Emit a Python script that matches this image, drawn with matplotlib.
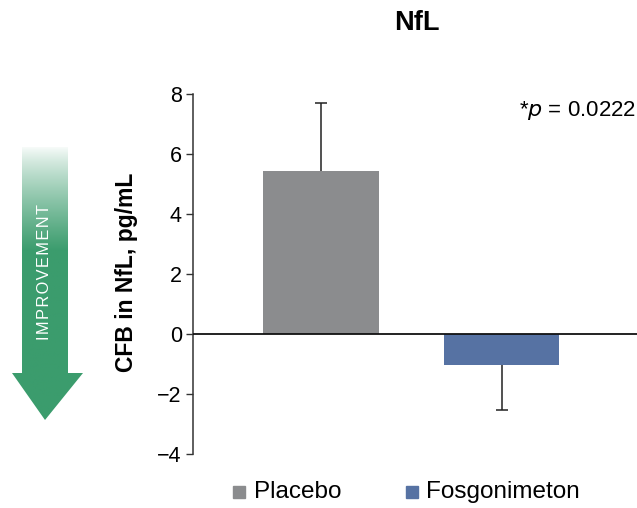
import numpy as np
import matplotlib
matplotlib.use("Agg")
import matplotlib.pyplot as plt
from matplotlib.patches import Polygon, Rectangle

plt.rcParams['font.family'] = ['Liberation Sans', 'DejaVu Sans']

groups = ["Placebo", "Fosgonimeton"]
means = [5.43, -1.02]
err_up = [2.28, 0.0]
err_dn = [0.0, 1.52]
colors = ["#8b8c8e", "#5672a3"]
yticks = [-4, -2, 0, 2, 4, 6, 8]
title = "NfL"
ylabel = "CFB in NfL, pg/mL"
ptext = "*$\\it{p}$ = 0.0222"
arrow_label = "IMPROVEMENT"

W, H = 637, 508
fig = plt.figure(figsize=(W/100, H/100), dpi=100)

def fx(px): return px / W
def fy(py): return 1 - py / H

ax = fig.add_axes([fx(193), fy(454), fx(637) - fx(193), fy(94) - fy(454)])
x = np.array([0, 1])
ax.bar(x, means, width=0.64, color=colors, zorder=2)
for i in range(len(x)):
    _, caps, _ = ax.errorbar([x[i]], [means[i]], yerr=[[err_dn[i]], [err_up[i]]],
                             fmt='none', ecolor='#222222', elinewidth=1.1,
                             capsize=4, capthick=1.1, zorder=3)
    for c in caps:
        yd = np.asarray(c.get_ydata(), dtype=float)
        if np.allclose(yd, means[i]):
            c.set_visible(False)
ax.axhline(0, color='#111111', lw=1.3, zorder=4)
ax.set_xlim(-0.71, 1.75)
ax.set_ylim(-4, 8)
ax.set_yticks(yticks)
ax.set_yticklabels([str(t).replace('-', '\u2212') for t in yticks], fontsize=15.5)
ax.tick_params(axis='y', direction='out', length=5, width=1, color='#333333', pad=3)
ax.set_xticks([])
for s in ['top', 'right', 'bottom']:
    ax.spines[s].set_visible(False)
ax.spines['left'].set_color('#333333')
ax.spines['left'].set_linewidth(1.1)

fig.text(fx(127), fy(272), ylabel, rotation=90, ha='center', va='center',
         fontsize=16.5, fontweight='bold')
fig.text(fx(417), fy(23), title, ha='center', va='center', fontsize=19.5, fontweight='bold')
fig.text(fx(636), fy(111), ptext, ha='right', va='center', fontsize=16)

lax = fig.add_axes([0, 0, 1, 1], zorder=-1)
lax.set_xlim(0, W); lax.set_ylim(H, 0); lax.axis('off')
for (sx, tx, lab, c) in [(239, 254, groups[0], colors[0]), (412, 426, groups[1], colors[1])]:
    lax.add_patch(Rectangle((sx - 6, 486), 12, 12, color=c))
    lax.text(tx, 492, lab, ha='left', va='center', fontsize=17.5)

arrow_pts = [(22, 147), (68, 147), (68, 373), (83, 373), (45, 420), (12, 373), (22, 373)]
poly = Polygon(arrow_pts, closed=True, facecolor='none', edgecolor='none')
lax.add_patch(poly)
n = 256
grad = np.linspace(0, 1, n)
t = np.clip(grad / 0.38, 0, 1) ** 0.8
top = np.array([1.0, 1.0, 1.0])
green = np.array([0x3b, 0x9c, 0x6d]) / 255
cols = (1 - t)[:, None] * top + t[:, None] * green
img = np.repeat(cols[:, None, :], 2, axis=1)
im = lax.imshow(img, extent=[10, 86, 422, 145], aspect='auto', origin='upper', zorder=1)
im.set_clip_path(poly)
lax.set_xlim(0, W); lax.set_ylim(H, 0)
lax.text(45, 272, "\u200a".join(arrow_label), rotation=90, ha='center', va='center',
         color='white', fontsize=11.8, zorder=2)

fig.savefig("out.png", dpi=100)
